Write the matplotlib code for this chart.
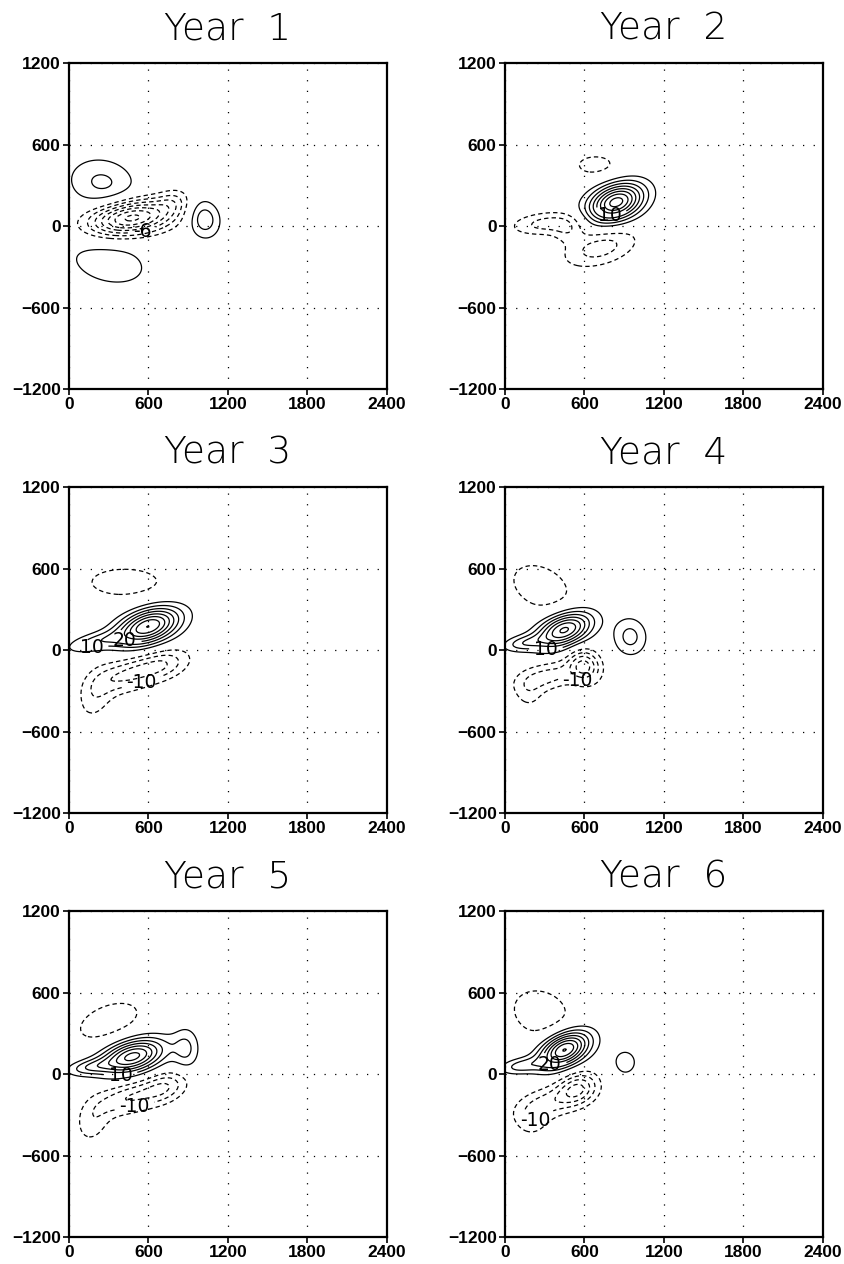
import numpy as np
import matplotlib
matplotlib.use("Agg")
import matplotlib.pyplot as plt

plt.rcParams['lines.dashed_pattern'] = [3.5, 2.5]

titles = ["Year  1", "Year  2", "Year  3", "Year  4", "Year  5", "Year  6"]
x_ticks = [0, 600, 1200, 1800, 2400]
y_ticks = [-1200, -600, 0, 600, 1200]

# each blob: amplitude, x centre, y centre, x width, y width, tilt (deg)
blobs_y1 = [(4.4, 250, 320, 185, 130, -10), (-15, 470, 60, 220, 85, 8),
            (-3, 780, 180, 90, 60, 20), (5.7, 1020, 55, 83, 100, 15),
            (3.0, 300, -270, 280, 150, -12)]
blobs_y2 = [(17, 840, 175, 150, 90, 20), (-2.6, 685, 448, 170, 85, 0),
            (-4.9, 320, 20, 186, 57, 5), (-5, 720, -160, 200, 90, 15),
            (-2.5, 480, -40, 80, 60, 0)]
blobs_y3 = [(40, 600, 175, 170, 85, 18), (12, 200, 60, 150, 45, 12),
            (-7, 420, 500, 300, 115, 0), (-14, 420, -190, 160, 80, 15),
            (-14, 700, -110, 150, 75, 15), (-8, 200, -330, 90, 140, -20)]
blobs_y4 = [(-8, 270, 465, 220, 145, -25), (37, 450, 150, 150, 80, 20),
            (12, 140, 50, 110, 40, 8), (11.9, 945, 98, 90, 100, 10),
            (-20, 600, -120, 80, 90, 35), (-12, 330, -190, 170, 70, 12),
            (-6, 180, -320, 80, 90, 0)]
blobs_y5 = [(-8, 300, 390, 230, 115, 20), (37, 480, 130, 170, 80, 15),
            (12, 150, 50, 120, 40, 8), (10.5, 884, 180, 70, 110, 0),
            (-14, 440, -180, 160, 75, 15), (-14, 720, -100, 130, 75, 20),
            (-8, 180, -340, 90, 130, -20)]
blobs_y6 = [(-8, 270, 450, 210, 160, -20), (42, 450, 180, 140, 80, 25),
            (12, 120, 60, 110, 40, 8), (6.5, 907, 86, 97, 102, 0),
            (-20, 550, -110, 110, 80, 20), (-12, 300, -220, 160, 80, 15),
            (-6, 200, -360, 90, 80, 0)]
all_blobs = [blobs_y1, blobs_y2, blobs_y3, blobs_y4, blobs_y5, blobs_y6]

intervals = [2, 2, 5, 5, 5, 5]
# contour labels: level, x, y
labels = [[(-6, 560, -80)],
          [(10, 795, 30)],
          [(10, 170, 30), (20, 420, 65), (-10, 560, -290)],
          [(10, 310, 5), (-10, 540, -270)],
          [(10, 390, -5), (-10, 505, -290)],
          [(20, 335, 45), (-10, 235, -350)]]

xg = np.linspace(0, 2400, 241)
yg = np.linspace(-1200, 1200, 241)
X, Y = np.meshgrid(xg, yg)


def field(blobs):
    z = np.zeros_like(X)
    for a, x0, y0, sx, sy, ang in blobs:
        t = np.deg2rad(ang)
        u = (X - x0) * np.cos(t) + (Y - y0) * np.sin(t)
        v = -(X - x0) * np.sin(t) + (Y - y0) * np.cos(t)
        z += a * np.exp(-0.5 * ((u / sx) ** 2 + (v / sy) ** 2))
    return z


fig = plt.figure(figsize=(8.45, 12.64), dpi=100)
lefts = [0.0817, 0.5976]
bottoms = [0.6922, 0.3568, 0.02136]
w, h = 0.376, 0.2579

for i in range(6):
    ax = fig.add_axes([lefts[i % 2], bottoms[i // 2], w, h])
    z = field(all_blobs[i])
    step = intervals[i]
    lab_levels = [l[0] for l in labels[i]]
    lev = np.arange(-60, 61, step)
    lev = [l for l in lev if l != 0 and l not in lab_levels]
    ax.contour(X, Y, z, levels=lev, colors='k', linewidths=0.9)
    # labelled levels drawn on their own so each label can break its line
    for lv, lx, ly in labels[i]:
        cl = ax.contour(X, Y, z, levels=[lv], colors='k', linewidths=0.9)
        txt = ax.clabel(cl, manual=[(lx, ly)], fmt='%d', inline=True,
                        fontsize=13.5, inline_spacing=5)
        for t in txt:
            t.set_rotation(0)
            t.set_color('k')

    ax.set_xlim(0, 2400)
    ax.set_ylim(-1200, 1200)
    ax.set_xticks(x_ticks)
    ax.set_yticks(y_ticks)
    ax.grid(True, color='k', linestyle=(0, (1, 7.5)), linewidth=0.9)
    ax.tick_params(direction='out', length=4, width=1.2, pad=2,
                   top=False, right=False, labelsize=12.5)
    for lab in ax.get_xticklabels() + ax.get_yticklabels():
        lab.set_fontweight('bold')
        lab.set_fontfamily('Liberation Sans')
    for sp in ax.spines.values():
        sp.set_linewidth(1.6)
    ax.set_title(titles[i], fontsize=27, fontweight='light', pad=17)

fig.savefig("out.png", dpi=100)
